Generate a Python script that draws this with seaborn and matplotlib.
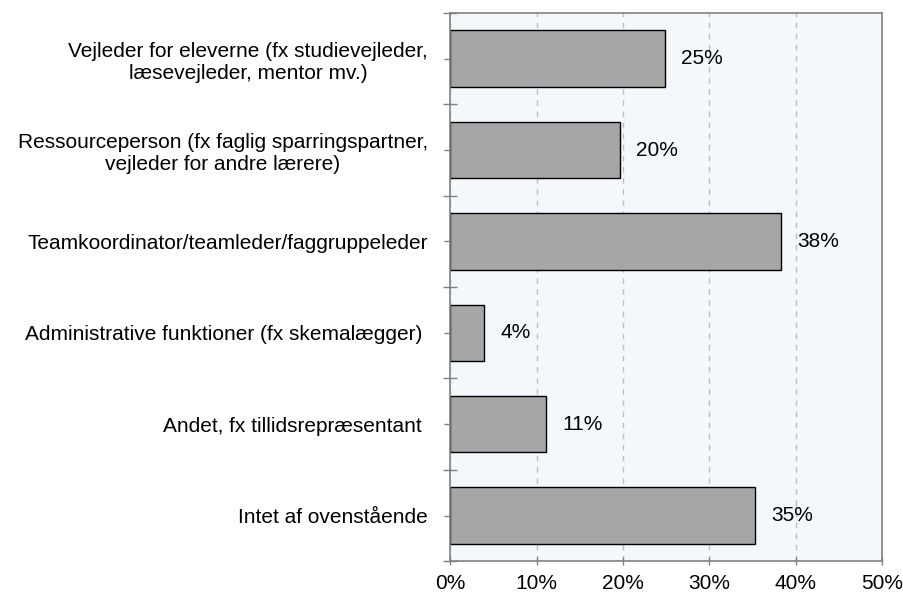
import pandas as pd
import matplotlib.pyplot as plt
import matplotlib.ticker as mticker
import seaborn as sns

# data (percent)
categories = [
    "Vejleder for eleverne (fx studievejleder,\nlæsevejleder, mentor mv.)",
    "Ressourceperson (fx faglig sparringspartner,\nvejleder for andre lærere)",
    "Teamkoordinator/teamleder/faggruppeleder",
    "Administrative funktioner (fx skemalægger) ",
    "Andet, fx tillidsrepræsentant ",
    "Intet af ovenstående",
]
values = [24.8, 19.6, 38.3, 3.9, 11.1, 35.3]
x_ticks = [0, 10, 20, 30, 40, 50]

df = pd.DataFrame({"kategori": categories, "andel": values})

sns.set_style("white")
plt.rcParams["font.family"] = ["Liberation Sans", "DejaVu Sans"]
plt.rcParams["text.color"] = "black"
plt.rcParams["xtick.color"] = "#808080"
plt.rcParams["ytick.color"] = "#808080"
plt.rcParams["xtick.labelcolor"] = "black"
plt.rcParams["ytick.labelcolor"] = "black"

fig = plt.figure(figsize=(9.04, 5.97), dpi=100)
ax = fig.add_axes([0.498, 0.060, 0.478, 0.918])

sns.barplot(data=df, x="andel", y="kategori", orient="h", color="#A6A6A6",
            saturation=1, edgecolor="black", linewidth=1, width=0.62, ax=ax)

ax.set_facecolor("#F4F7FB")
ax.set_xlim(0, 50)
ax.set_ylim(len(categories) - 0.5, -0.5)
ax.set_xticks(x_ticks)
ax.xaxis.set_major_formatter(mticker.FuncFormatter(lambda v, p: f"{v:.0f}%"))
ax.set_xlabel("")
ax.set_ylabel("")

ax.grid(axis="x", color="#BFBFBF", linestyle=(0, (4, 4)), linewidth=1)
ax.set_axisbelow(True)

for s in ax.spines.values():
    s.set_color("#808080")
    s.set_linewidth(1.2)

# ticks: short at the category, crossing at boundaries
ax.tick_params(axis="y", which="both", left=True)
ax.tick_params(axis="x", which="both", bottom=True)
ax.tick_params(axis="y", which="major", length=4, width=1, color="#808080",
               labelsize=15, pad=12, labelcolor="black")
ax.yaxis.set_minor_locator(mticker.FixedLocator([i - 0.5 for i in range(len(categories) + 1)]))
ax.tick_params(axis="y", which="minor", length=10, width=1, direction="inout", color="#808080")
ax.tick_params(axis="x", which="major", length=6, width=1, direction="inout", color="#808080",
               labelsize=15, pad=6, labelcolor="black")
for lbl in ax.get_yticklabels():
    lbl.set_ha("right")
    lbl.set_multialignment("center")

for i, v in enumerate(values):
    ax.text(v + 1.9, i, f"{round(v):.0f}%", va="center", ha="left", fontsize=15, color="black")

fig.savefig("out.png", dpi=100)
